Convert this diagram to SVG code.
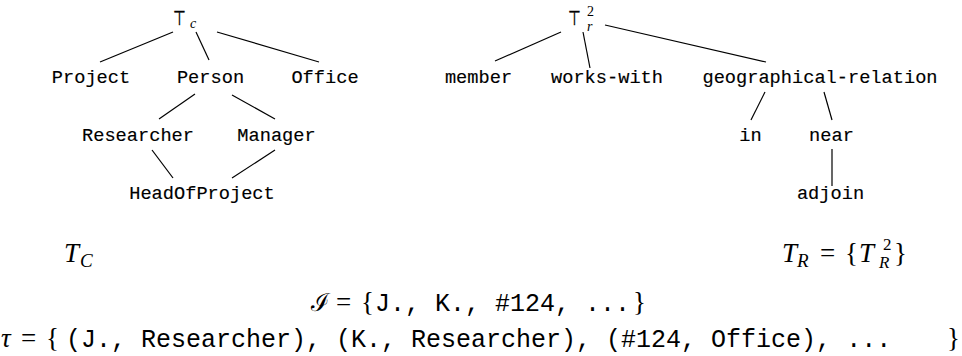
<svg xmlns="http://www.w3.org/2000/svg" width="962" height="356" viewBox="0 0 962 356">
<style>
.tt{font-family:"Liberation Mono","DejaVu Sans Mono",monospace;font-size:18.67px;fill:#000;text-anchor:middle;stroke:#000;stroke-width:0.15}
.tb{font-family:"Liberation Mono","DejaVu Sans Mono",monospace;font-size:25px;fill:#000;white-space:pre}
.m{font-family:"Liberation Serif","DejaVu Serif",serif;font-style:italic;fill:#000}
.r{font-family:"Liberation Serif","DejaVu Serif",serif;fill:#000}
.sym{font-family:"DejaVu Sans",sans-serif;font-size:20px;fill:#000;stroke:#000;stroke-width:0.4}
#edges line{stroke:#000;stroke-width:1.2}
</style>
<rect width="962" height="356" fill="#fff"/>
<g id="edges">
<line x1="173" y1="32" x2="100" y2="62"/>
<line x1="196" y1="32" x2="209" y2="60"/>
<line x1="217" y1="32" x2="319" y2="62"/>
<line x1="195" y1="94" x2="159" y2="119"/>
<line x1="232" y1="95" x2="275" y2="119"/>
<line x1="152" y1="150" x2="173" y2="178"/>
<line x1="275" y1="150" x2="232" y2="178"/>
<line x1="561" y1="32" x2="495" y2="61"/>
<line x1="583" y1="32" x2="590" y2="68"/>
<line x1="605" y1="25" x2="766" y2="62"/>
<line x1="765" y1="92" x2="751" y2="120"/>
<line x1="824" y1="92" x2="832" y2="120"/>
<line x1="832" y1="149" x2="832" y2="186"/>
</g>
<g id="topC"><text class="sym" transform="translate(173,25) scale(0.72,1)">⊤</text><text class="m" x="190" y="28" font-size="14">c</text></g>
<g id="project"><text class="tt" x="91" y="83">Project</text></g>
<g id="person"><text class="tt" x="210.5" y="83">Person</text></g>
<g id="office"><text class="tt" x="325" y="83">Office</text></g>
<g id="researcher"><text class="tt" x="138" y="141">Researcher</text></g>
<g id="manager"><text class="tt" x="276.5" y="141">Manager</text></g>
<g id="headofproject"><text class="tt" x="202" y="199">HeadOfProject</text></g>
<g id="topR"><text class="sym" transform="translate(568,25) scale(0.72,1)">⊤</text><text class="r" x="587" y="16" font-size="14">2</text><text class="m" x="587" y="31" font-size="14">r</text></g>
<g id="member"><text class="tt" x="478.5" y="83">member</text></g>
<g id="workswith"><text class="tt" x="607" y="83">works-with</text></g>
<g id="georel"><text class="tt" x="820" y="83">geographical-relation</text></g>
<g id="in"><text class="tt" x="750.5" y="141">in</text></g>
<g id="near"><text class="tt" x="831.5" y="141">near</text></g>
<g id="adjoin"><text class="tt" x="830.5" y="199">adjoin</text></g>
<g id="TC"><text class="m" x="64" y="262" font-size="27">T</text><text class="m" x="80" y="267" font-size="19">C</text></g>
<g id="TR"><text class="m" x="782" y="262" font-size="27">T</text><text class="m" x="797" y="267" font-size="19">R</text><text class="r" x="820" y="262" font-size="27">=</text><text class="r" x="845" y="262" font-size="27">{</text><text class="m" x="859" y="262" font-size="27">T</text><text class="r" x="883" y="250" font-size="17">2</text><text class="m" x="879" y="268" font-size="17">R</text><text class="r" x="894" y="262" font-size="27">}</text></g>
<g id="Iline"><text class="r" x="311" y="311" font-size="25" font-family="DejaVu Serif">ℐ</text><text class="r" x="336" y="311" font-size="27">=</text><text class="r" x="361" y="311" font-size="27">{</text><text class="tb" x="375" y="311">J., K., #124, ...</text><text class="r" x="633" y="311" font-size="27">}</text></g>
<g id="tauline"><text class="m" x="1" y="347" font-size="27">τ</text><text class="r" x="21" y="347" font-size="27">=</text><text class="r" x="46" y="347" font-size="27">{</text><text class="tb" x="66" y="347">(J., Researcher), (K., Researcher), (#124, Office), ...</text><text class="r" x="947" y="347" font-size="27">}</text></g>
</svg>
